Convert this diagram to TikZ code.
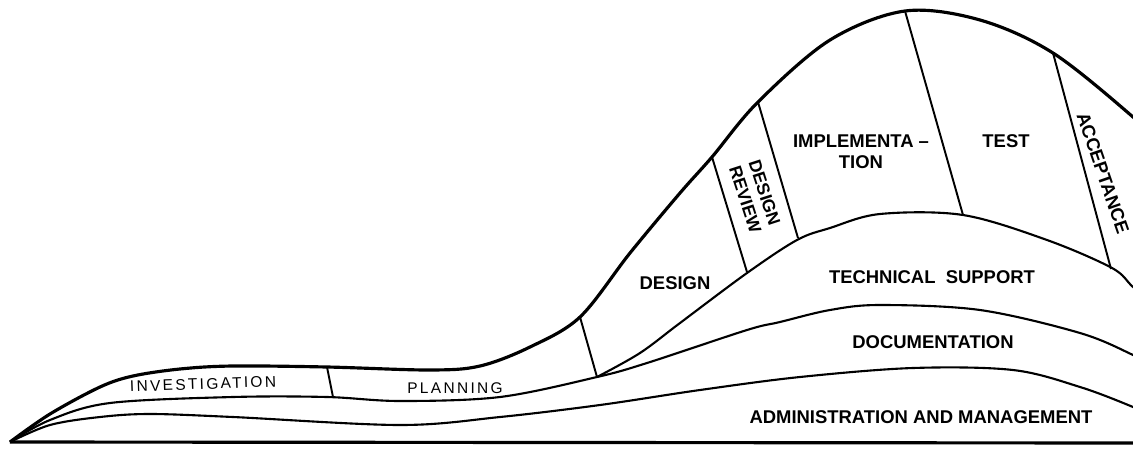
\documentclass[tikz,border=0pt]{standalone}
\usepackage{fontspec}
\setmainfont{Liberation Sans}
\newfontfamily\finafont[LetterSpace=15]{Liberation Sans}
\begin{document}
\begin{tikzpicture}[x=0.02cm,y=-0.02cm,
        borde/.style={tinta,line width=1.8pt,line join=round},
        curva/.style={tinta,line width=1.2pt},
        corte/.style={tinta,line width=1.1pt},
        fase/.style={font=\bfseries\fontsize{10.5}{12}\selectfont,align=center,inner sep=0pt},
        fasefina/.style={font=\finafont\fontsize{8.8}{10}\selectfont,inner sep=0pt}]
        %colores
        \colorlet{tinta}{black}

        \useasboundingbox (0,0) rectangle (1133,450);
        \clip (0,0) rectangle (1133,450);

        % curva exterior
        \draw[borde] plot[smooth,tension=0.55] coordinates {(10,442) (50,414) (100,387) (133,376) (180,369) (233,366) (327,367) (430,370) (480,366) (530,347) (580,317) (630,253) (680,193) (712,157) (758,102) (830,40) (905,11) (980,20) (1053,53) (1133,117) (1160,145)};
        % planeacion -> documentacion
        \draw[curva] plot[smooth,tension=0.55] coordinates {(10,442) (50,420) (110,403) (233,397) (327,397) (400,401) (500,397) (597,377) (647,363) (747,330) (780,322) (830,310) (880,305) (980,310) (1080,333) (1133,355) (1160,370)};
        % soporte tecnico
        \draw[curva] plot[smooth,tension=0.55] coordinates {(597,377) (640,353) (680,323) (747,273) (797,240) (830,228) (880,214) (963,215) (1047,240) (1112,268) (1133,287) (1160,310)};
        % administracion
        \draw[curva] plot[smooth,tension=0.55] coordinates {(10,442) (50,425) (100,417) (150,414) (233,417) (400,425) (500,417) (600,405) (700,390) (800,377) (913,368) (1013,370) (1080,387) (1133,407) (1160,420)};
        % base
        \draw[borde] (10,442) -- (1133,443);

        % cortes entre fases
        \coordinate (inv a) at (327,367); \coordinate (inv b) at (333,397);
        \coordinate (pla a) at (580,317); \coordinate (pla b) at (597,377);
        \coordinate (dis a) at (712,157); \coordinate (dis b) at (747,272);
        \coordinate (rev a) at (758,102); \coordinate (rev b) at (798,238);
        \coordinate (imp a) at (905,11);  \coordinate (imp b) at (963,215);
        \coordinate (tes a) at (1053,53); \coordinate (tes b) at (1111,269);
        \foreach \f in {inv,pla,dis,rev,imp,tes}
            \draw[corte] (\f\space a) -- (\f\space b);

        % etiquetas
        \node[fasefina,rotate=2] (investigacion) at (203,384) {INVESTIGATION};
        \node[fasefina] (planeacion) at (455,388) {PLANNING};
        \node[fase] (diseno) at (675,283) {DESIGN};
        \node[fase,rotate=-72,font=\bfseries\fontsize{10}{11.5}\selectfont] (revision) at (755,196) {DESIGN\\REVIEW};
        \node[fase] (implementacion) at (861,152) {IMPLEMENTA --\\TION};
        \node[fase] (prueba) at (1006,141) {TEST};
        \node[fase,rotate=-71] (aceptacion) at (1103,173) {ACCEPTANCE};
        \node[fase] (soporte) at (932,277) {TECHNICAL\ \ SUPPORT};
        \node[fase] (documentacion) at (933,342) {DOCUMENTATION};
        \node[fase] (administracion) at (921,417) {ADMINISTRATION AND MANAGEMENT};
    \end{tikzpicture}
\end{document}
